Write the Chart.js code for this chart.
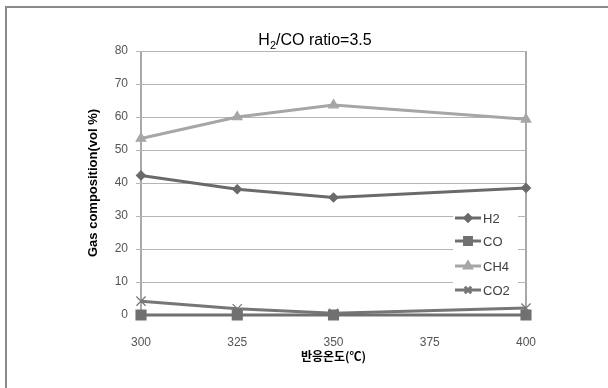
<!DOCTYPE html>
<html>
<head>
<meta charset="utf-8">
<script src="https://cdn.jsdelivr.net/npm/chart.js@4"></script>
<style>
    html, body { margin: 0; padding: 0; background: #fff; }
    #wrap { position: relative; width: 608px; height: 388px; overflow: hidden; }
    #frame { position: absolute; left: 5px; top: 6px; width: 700px; height: 500px; border: 2px solid #8a8a8a; }
    canvas { position: absolute; left: 0; top: 0; }
</style>
</head>
<body>
<div id="wrap">
    <div id="frame"></div>
    <canvas id="chart" width="608" height="388"></canvas>
</div>
<script>
var temps = [300, 325, 350, 400];
var h2Values = [42.3, 38.1, 35.6, 38.5];
var coValues = [0, 0, 0, 0];
var ch4Values = [53.5, 60.0, 63.6, 59.3];
var co2Values = [4.2, 1.9, 0.5, 2.1];
var xTicks = [300, 325, 350, 375, 400];
var seriesNames = ['H2', 'CO', 'CH4', 'CO2'];
var titleMain = 'H';
var titleSub = '2';
var titleRest = '/CO ratio=3.5';

function pts(vals) {
    return vals.map(function(v, i) { return {x: temps[i], y: v}; });
}

var FONT = "'Liberation Sans', 'Noto Sans CJK KR', sans-serif";

var titlePlugin = {
    id: 'subTitle',
    afterDraw: function(chart) {
        var c = chart.ctx;
        c.save();
        c.fillStyle = '#000';
        c.textBaseline = 'middle';
        c.font = '16px ' + FONT;
        var w1 = c.measureText(titleMain).width;
        var w3 = c.measureText(titleRest).width;
        c.font = '11px ' + FONT;
        var w2 = c.measureText(titleSub).width;
        var x = 315 - (w1 + w2 + w3) / 2;
        var y = 41;
        c.font = '16px ' + FONT;
        c.fillText(titleMain, x, y);
        c.font = '11px ' + FONT;
        c.fillText(titleSub, x + w1, y + 5);
        c.font = '16px ' + FONT;
        c.fillText(titleRest, x + w1 + w2, y);
        c.restore();
    }
};

var legendPlugin = {
    id: 'innerLegend',
    afterDatasetsDraw: function(chart) {
        var c = chart.ctx;
        c.save();
        var rows = [218, 241, 266, 290];
        c.fillStyle = '#fff';
        c.fillRect(453, 206, 65, 96);
        chart.data.datasets.forEach(function(ds, i) {
            var y = rows[i];
            c.strokeStyle = ds.borderColor;
            c.lineWidth = 3;
            c.beginPath();
            c.moveTo(455, y);
            c.lineTo(481, y);
            c.stroke();
            c.fillStyle = ds.pointBackgroundColor;
            c.strokeStyle = ds.pointBackgroundColor;
            Chart.helpers.drawPoint(c, {
                pointStyle: ds.pointStyle,
                radius: ds.pointRadius * 0.7,
                rotation: 0,
                borderWidth: 1.2
            }, 468, y);
            c.fillStyle = '#404040';
            c.font = '13px ' + FONT;
            c.textBaseline = 'middle';
            c.fillText(ds.label, 483, y + 1);
        });
        c.restore();
    }
};

var colors = ['#6a6a6a', '#707070', '#a6a6a6', '#767676'];
var styles = ['rectRot', 'rect', 'triangle', 'crossRot'];
var radii = [4.5, 7, 5.5, 6.5];
var allValues = [h2Values, coValues, ch4Values, co2Values];

var datasets = seriesNames.map(function(name, i) {
    return {
        label: name,
        data: pts(allValues[i]),
        borderColor: colors[i],
        backgroundColor: colors[i],
        pointBackgroundColor: colors[i],
        pointBorderColor: colors[i],
        pointStyle: styles[i],
        pointRadius: radii[i],
        pointBorderWidth: 1.2,
        borderWidth: 3,
        tension: 0,
        clip: false
    };
});

var ctx = document.getElementById('chart').getContext('2d');
var chart = new Chart(ctx, {
    type: 'line',
    data: { datasets: datasets },
    options: {
        responsive: false,
        animation: false,
        layout: { padding: { top: 51, right: 82, left: 0, bottom: 0 } },
        plugins: {
            legend: { display: false },
            title: { display: false },
            tooltip: { enabled: false }
        },
        scales: {
            x: {
                type: 'linear',
                min: 300,
                max: 400,
                afterBuildTicks: function(scale) {
                    scale.ticks = xTicks.map(function(v) { return {value: v}; });
                },
                afterFit: function(scale) { scale.height = 73; },
                border: { display: false },
                grid: {
                    drawTicks: false,
                    lineWidth: 2,
                    color: function(c) {
                        return (c.tick && (c.tick.value === 300 || c.tick.value === 400)) ? '#a8a8a8' : 'rgba(0,0,0,0)';
                    }
                },
                ticks: {
                    padding: 20,
                    color: '#555555',
                    font: { family: FONT, size: 12 }
                },
                title: {
                    display: true,
                    text: '반응온도(℃)',
                    color: '#000',
                    font: { family: "'Noto Sans CJK KR', sans-serif", size: 12, weight: 'bold' },
                    padding: { top: 0, bottom: 24 }
                }
            },
            y: {
                min: 0,
                max: 80,
                afterFit: function(scale) { scale.width = 141; },
                border: { display: false },
                grid: {
                    color: '#b5b5b5',
                    lineWidth: 1,
                    tickLength: 5
                },
                ticks: {
                    stepSize: 10,
                    padding: 8,
                    color: '#555555',
                    font: { family: FONT, size: 12 }
                },
                title: {
                    display: true,
                    text: 'Gas composition(vol %)',
                    color: '#000',
                    font: { family: FONT, size: 13, weight: 'bold' },
                    padding: { top: 86, bottom: 0 }
                }
            }
        }
    },
    plugins: [titlePlugin, legendPlugin]
});
</script>
</body>
</html>
